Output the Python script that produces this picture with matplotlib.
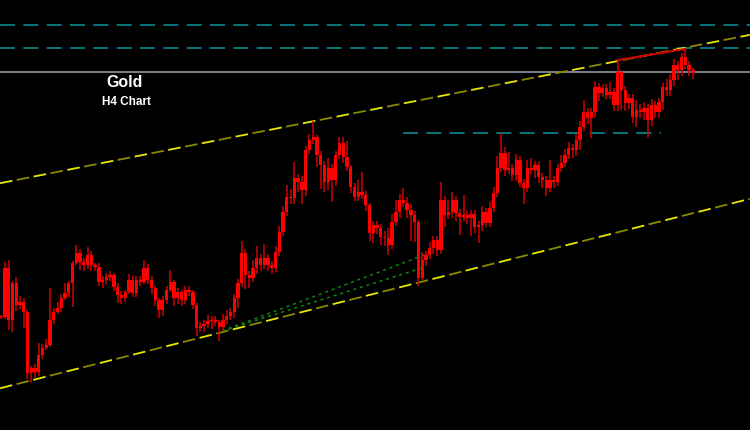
import numpy as np
import matplotlib
matplotlib.use("Agg")
import matplotlib.pyplot as plt

# H4 closes (USD), open of each candle = previous close
closes = [
    1191.5, 1216, 1190, 1208.5, 1197.5, 1199, 1194, 1163.5, 1166, 1164,
    1172.5, 1176, 1177.5, 1190, 1194, 1196, 1201, 1203.5, 1208.5, 1218.5,
    1223.5, 1219, 1217.5, 1222.5, 1217.5, 1216.5, 1209, 1210, 1211.5, 1212.5,
    1206.5, 1202.5, 1201, 1204, 1210, 1203.5, 1210, 1209, 1216, 1210,
    1206, 1200, 1195, 1200, 1205, 1209, 1201, 1204, 1200, 1205,
    1204, 1197.5, 1186, 1187, 1188, 1189.5, 1190, 1189, 1186.5, 1190,
    1192, 1194, 1201, 1208.5, 1223.5, 1212.5, 1211, 1216, 1221, 1217.5,
    1221, 1217.5, 1216, 1224, 1234, 1244, 1251.5, 1251, 1261, 1259,
    1255, 1275, 1280, 1281.5, 1272.5, 1267.5, 1259, 1266, 1260, 1272.5,
    1278.5, 1271.5, 1266.5, 1256.5, 1251.5, 1254, 1252.5, 1247.5, 1233.5, 1237.5,
    1236, 1231.5, 1231, 1227.5, 1239, 1244, 1250, 1248.5, 1245, 1242.5,
    1239, 1211, 1220, 1222.5, 1226, 1230, 1225, 1250, 1242.5, 1244,
    1250, 1243.5, 1241.5, 1242.5, 1241, 1243, 1236.5, 1237.5, 1244, 1238.5,
    1246, 1253.5, 1266, 1273.5, 1265, 1266, 1262.5, 1270, 1258.5, 1256,
    1266, 1265, 1267.5, 1261.5, 1260, 1256, 1260, 1259, 1266, 1268.5,
    1272.5, 1276, 1275, 1280, 1286.5, 1294, 1291, 1294, 1306.5, 1303.5,
    1306, 1302.5, 1304, 1297.5, 1314, 1305, 1298.5, 1301, 1291.5, 1295,
    1294, 1296, 1290, 1297.5, 1294, 1299, 1306.5, 1305, 1310, 1317.5,
    1315, 1321.5, 1317.5, 1315, 1313.5,
]
upper_wick = [
    1, 3, 4, 1, 3, 3, 2, 1, 1, 2,
    6, 2, 3, 16, 2, 3, 2, 5, 1, 1,
    4, 2, 2, 4, 2, 1, 2, 2, 2, 2,
    1, 2, 2, 1, 3, 2, 2, 2, 4, 2,
    2, 1, 1, 2, 2, 6, 1, 2, 1, 2,
    2, 1, 1, 2, 2, 3, 2, 2, 1, 3,
    3, 2, 2, 2, 6, 2, 2, 4, 6, 2,
    7, 2, 2, 3, 3, 3, 6, 4, 8, 2,
    3, 2, 3, 8, 1, 2, 2, 5, 2, 2,
    3, 3, 8, 1, 2, 6, 10, 2, 1, 2,
    2, 2, 3, 5, 4, 6, 3, 6, 3, 3,
    2, 1, 4, 2, 3, 2, 2, 9, 2, 6,
    4, 2, 2, 10, 2, 2, 2, 2, 3, 2,
    3, 3, 6, 10, 3, 8, 2, 3, 2, 2,
    4, 5, 2, 2, 2, 2, 10, 2, 2, 4,
    3, 3, 2, 3, 3, 6, 2, 2, 3, 2,
    2, 2, 5, 2, 6, 1, 2, 2, 2, 5,
    3, 3, 2, 3, 2, 2, 2, 4, 3, 3,
    2, 2, 4, 2, 1,
]
lower_wick = [
    1, 1, 5, 6, 3, 2, 8, 3, 5, 3,
    2, 2, 1, 1, 2, 1, 2, 1, 2, 12,
    1, 4, 3, 2, 3, 2, 2, 3, 2, 2,
    2, 4, 3, 2, 1, 2, 2, 2, 1, 2,
    3, 3, 4, 3, 2, 1, 4, 3, 3, 2,
    2, 2, 4, 2, 3, 2, 4, 2, 7, 2,
    2, 2, 3, 5, 2, 7, 5, 2, 3, 3,
    2, 3, 3, 2, 2, 2, 2, 3, 3, 5,
    7, 3, 2, 2, 6, 12, 5, 4, 11, 3,
    2, 3, 2, 3, 2, 2, 2, 3, 4, 5,
    3, 4, 4, 5, 2, 2, 3, 2, 4, 13,
    10, 4, 1, 3, 2, 3, 3, 2, 6, 2,
    3, 4, 9, 2, 3, 9, 3, 8, 3, 2,
    2, 2, 2, 2, 3, 2, 3, 3, 2, 8,
    2, 2, 4, 3, 4, 4, 2, 3, 2, 2,
    2, 2, 4, 3, 5, 2, 3, 10, 3, 4,
    2, 2, 2, 3, 3, 10, 4, 3, 3, 5,
    3, 4, 9, 3, 3, 3, 4, 3, 3, 3,
    5, 3, 2, 3, 3,
]

# horizontal levels
level_solid = 1314
levels_dashed = [1337.5, 1326]
level_short = 1283.5
level_short_span = (107, 175.5)

# channel (index, price) anchors
channel_upper = [(0, 1258.5), (199, 1332.5)]
channel_lower = [(0, 1156), (199, 1250.5)]

# green dotted trend lines
green_lines = [[(58.8, 1184.5), (115.4, 1224.5)],
               [(58.8, 1184.5), (112.8, 1216.5)]]

# red line joins the highs of these two candles
red_pair = (164, 182)

closes = np.array(closes)
opens = np.concatenate([[closes[0]], closes[:-1]])
top = np.maximum(opens, closes)
bot = np.minimum(opens, closes)
highs = top + np.array(upper_wick)
lows = bot - np.array(lower_wick)
x = np.arange(len(closes))

fig = plt.figure(figsize=(7.5, 4.3), dpi=100, facecolor='black')
ax = fig.add_axes([0, 0, 1, 1])
ax.set_facecolor('black')
ax.axis('off')
ax.set_xlim(-0.3, 199.2)
ax.set_ylim(1135, 1350)

# levels
for lv in levels_dashed:
    ax.axhline(lv, color='#0b8a90', lw=1.2, dashes=(9, 5), zorder=1)
ax.axhline(level_solid, color='#9aa6b4', lw=1.1, zorder=1)
ax.hlines(level_short, *level_short_span, color='#0b8a90', lw=1.2,
          linestyles=(0, (9, 5)), zorder=1)

# channel lines: yellow dashes alternating with olive dashes
for p1, p2 in (channel_upper, channel_lower):
    ax.axline(p1, p2, color='#e8e800', lw=1.3, dashes=(7, 12), zorder=2)
    ax.axline(p1, p2, color='#8a8a00', lw=1.3, dashes=(7, 12), zorder=2)
    ax.lines[-1].set_dashes((0, 9.5, 7, 2.5))

for (a, b) in green_lines:
    ax.plot([a[0], b[0]], [a[1], b[1]], color='#0a8a0a', lw=1.1,
            linestyle=(0, (2, 2.5)), zorder=2)

# candles
ax.vlines(x, lows, highs, color='#d00000', lw=1.1, zorder=3)
ax.bar(x, np.maximum(top - bot, 0.6), bottom=bot, width=0.88,
       color='#ff0000', edgecolor='none', zorder=4)

i1, i2 = red_pair
ax.plot([i1, i2], [highs[i1], highs[i2]], color='#cc0000', lw=1.5, zorder=5)

ax.text(0.1667, 0.807, 'Gold', transform=ax.transAxes, ha='center',
        va='center', color='white', fontsize=11.5, fontweight='bold',
        family='Liberation Sans')
ax.text(0.168, 0.763, 'H4 Chart', transform=ax.transAxes, ha='center',
        va='center', color='white', fontsize=8.5, fontweight='bold',
        family='Liberation Sans')

fig.savefig('out.png', dpi=100, facecolor='black')
